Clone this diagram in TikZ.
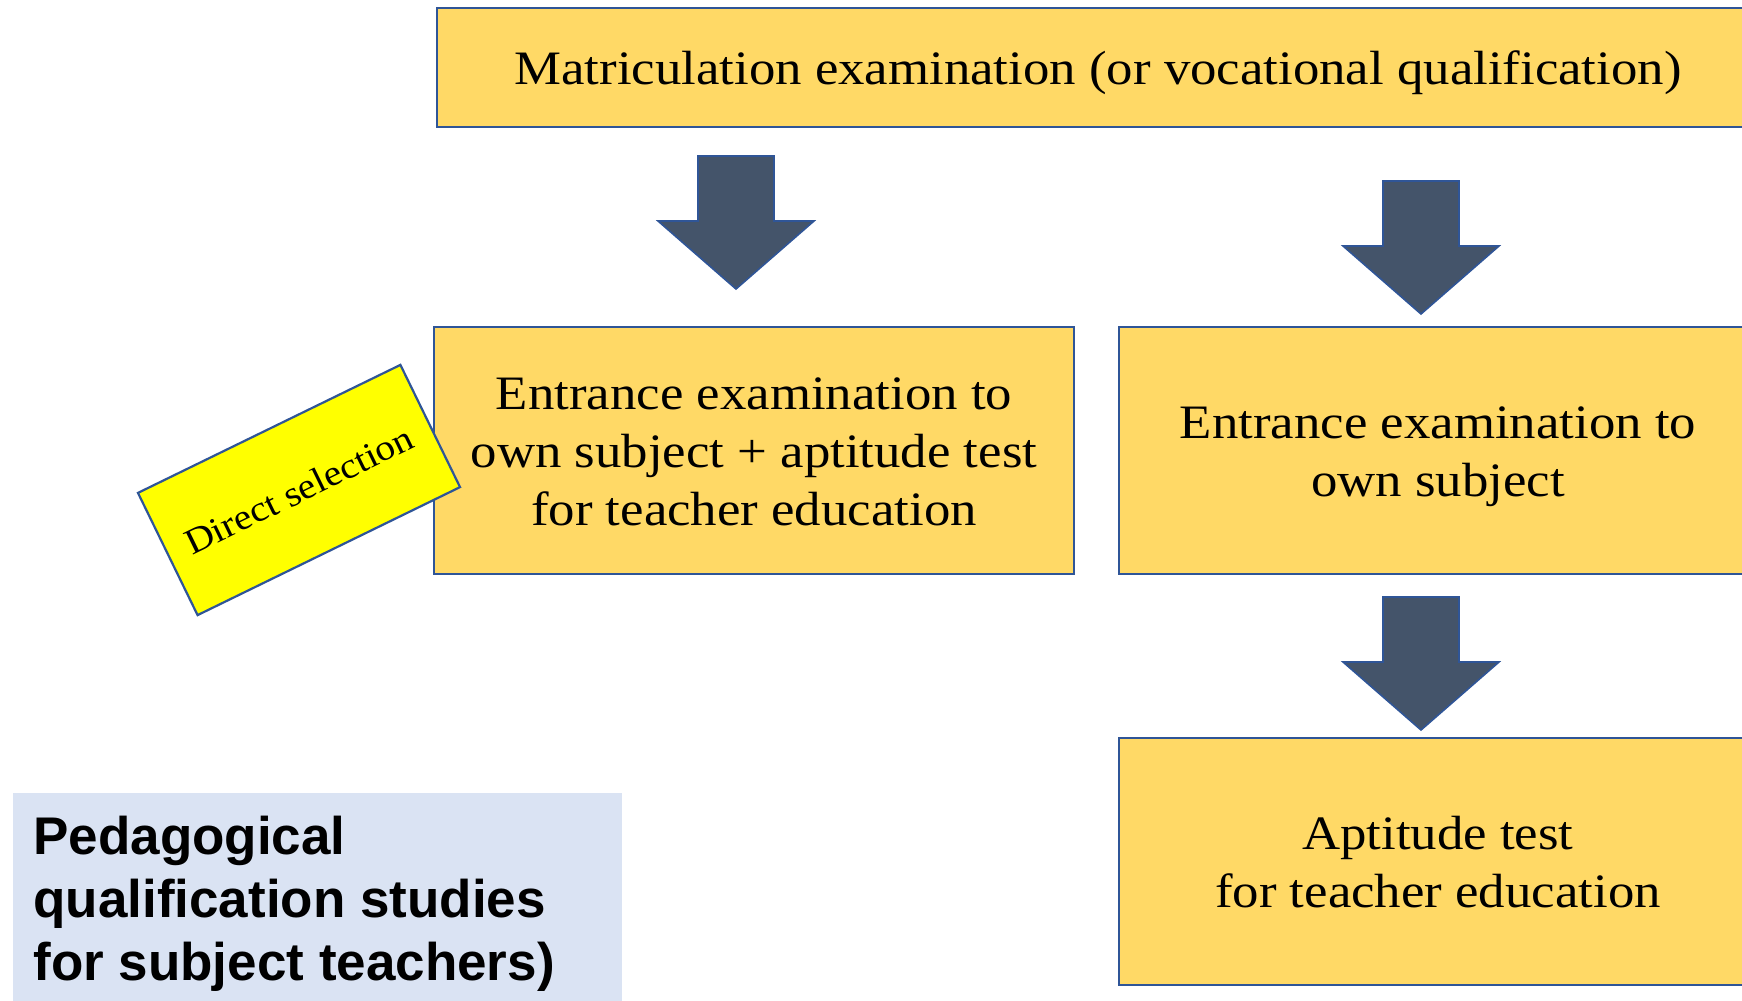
\documentclass[tikz,border=0pt]{standalone}
\usepackage{fontspec}
\newfontfamily\arialf{Liberation Sans}
\newfontfamily\palf{Liberation Serif}[FakeStretch=1.1]
\newcommand\bstrut{\rule[-0.23em]{0pt}{1.18em}}
\definecolor{boxfill}{HTML}{FFD966}
\definecolor{boxline}{HTML}{2F5597}
\definecolor{arrowgray}{HTML}{44546A}
\definecolor{tagyellow}{HTML}{FFFF00}
\definecolor{pedfill}{HTML}{DAE3F3}
\begin{document}
\begin{tikzpicture}[x=0.5pt,y=-0.5pt,
  box/.style={draw=boxline, line width=1.2pt, fill=boxfill, inner sep=0pt, align=center,
    font=\palf\fontsize{24}{28.9}\selectfont},
  tagbox/.style={draw=boxline, line width=1.1pt, fill=tagyellow, minimum width=146pt,
    minimum height=68pt, inner sep=0pt, rotate=26, font=\palf\fontsize{18}{22}\selectfont},
  arrowfill/.style={fill=arrowgray, draw=boxline, line width=0.8pt},
  blockarrow/.pic={\path[arrowfill] (-38,0) -- (38,0) -- (38,65) -- (78,65) -- (0,133)
     -- (-78,65) -- (-38,65) -- cycle;}
]
\useasboundingbox (0,0) rectangle (1742,1001);
\clip (0,0) rectangle (1742,1001);
\node[box, minimum width=661pt, minimum height=59.5pt] (matric) at (1098,67.5)
  {\bstrut Matriculation examination (or vocational qualification)};
\pic at (736,156) {blockarrow};
\pic at (1421,181) {blockarrow};
\pic at (1421,597) {blockarrow};
\node[box, minimum width=320pt, minimum height=123.5pt] (entryboth) at (754,450.5)
  {\bstrut Entrance examination to\\own subject + aptitude test\\for teacher education\bstrut};
\node[box, minimum width=319pt, minimum height=123.5pt] (entryown) at (1438,450.5)
  {\bstrut Entrance examination to\\own subject\bstrut};
\node[box, minimum width=319pt, minimum height=123.5pt] (aptitude) at (1438,861.5)
  {\bstrut Aptitude test\\for teacher education\bstrut};
\node[tagbox] (direct) at (299,490) {Direct selection};
\node[fill=pedfill, minimum width=304.5pt, minimum height=110pt, inner sep=0pt,
  anchor=north west] (ped) at (13,793) {};
\node[anchor=north west, inner sep=0pt, align=left,
  font=\arialf\bfseries\fontsize{26.5}{31.5}\selectfont] (pedtext) at (33,816)
  {Pedagogical\\qualification studies\\for subject teachers)};
\end{tikzpicture}
\end{document}
